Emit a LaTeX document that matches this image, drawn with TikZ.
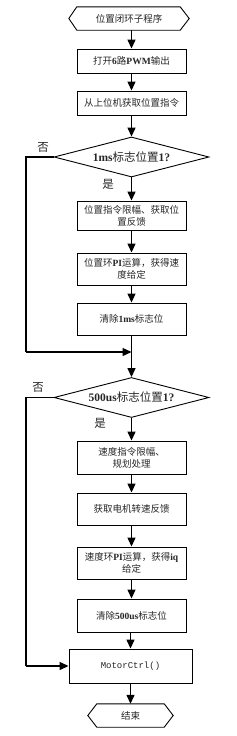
\documentclass[tikz,border=0pt]{standalone}
\usepackage{fontspec}
\setmainfont{Liberation Serif}
\setmonofont{Liberation Mono}
\newfontfamily\cjk{Noto Sans CJK SC}
\usetikzlibrary{shapes.geometric,arrows.meta,calc}
\newcommand\zh[1]{{\cjk #1}}
\begin{document}
\begin{tikzpicture}[x=1pt,y=-1pt,
  box/.style={draw,line width=0.9pt,minimum width=109pt,inner sep=1pt,align=center,
    font=\fontsize{9.5}{12}\selectfont,text=black!85},
  dec/.style={draw,diamond,line width=0.9pt,aspect=3.9,inner sep=0pt,minimum width=155pt,minimum height=40pt,
    font=\fontsize{11.5}{13}\selectfont,text=black!85},
  term/.style={inner sep=0pt,font=\fontsize{9.5}{12}\selectfont,text=black!85},
  lab/.style={font=\fontsize{11.5}{13}\selectfont,text=black!85,inner sep=0pt},
  arr/.style={line width=1.3pt,-{Triangle[length=9pt,width=8pt]}},
  ln/.style={line width=1.3pt}]
\useasboundingbox (0,0) rectangle (237,736);

% start
\node[term,minimum width=120pt,minimum height=23pt] (s) at (129,18.5) {\zh{位置闭环子程序}};
\draw[line width=0.9pt] (s.west) -- ([xshift=8pt]s.north west) -- ([xshift=-9pt]s.north east) -- (s.east)
  -- ([xshift=-9pt]s.south east) -- ([xshift=8pt]s.south west) -- cycle;

\node[box,minimum height=24pt] (b1) at (131.5,61) {\zh{打开}\textbf{6}\zh{路}\textbf{PWM}\zh{输出}};
\node[box,minimum height=24pt] (b2) at (131.5,103) {\zh{从上位机获取位置指令}};
\node[dec] (d1) at (131.5,157) {\textbf{1ms}\zh{标志位置}\textbf{1?}};
\node[box,minimum height=29pt] (b3) at (131.5,215.5) {\zh{位置指令限幅、获取位}\\\zh{置反馈}};
\node[box,minimum height=32pt] (b4) at (131.5,269) {\zh{位置环}\textbf{PI}\zh{运算，获得速}\\\zh{度给定}};
\node[box,minimum height=32pt] (b5) at (131.5,319) {\zh{清除}\textbf{1ms}\zh{标志位}};
\coordinate (j1) at (131.5,352);
\node[dec] (d2) at (131.5,397.5) {\textbf{500us}\zh{标志位置}\textbf{1?}};
\node[box,minimum height=33pt] (b6) at (131.5,457.5) {\zh{速度指令限幅、}\\\zh{规划处理}};
\node[box,minimum height=32pt] (b7) at (131.5,509) {\zh{获取电机转速反馈}};
\node[box,minimum height=32pt] (b8) at (131.5,563) {\zh{速度环}\textbf{PI}\zh{运算，获得}\textbf{iq}\\\zh{给定}};
\node[box,minimum height=33pt] (b9) at (131.5,615.5) {\zh{清除}\textbf{500us}\zh{标志位}};
\node[box,minimum width=123pt,minimum height=34pt,font=\ttfamily\fontsize{9}{11}\selectfont] (m) at (130.5,666) {MotorCtrl()};
\node[term,minimum width=85pt,minimum height=23pt] (e) at (130.5,715.5) {\zh{结束}};
\draw[line width=0.9pt] (e.west) -- ([xshift=9pt]e.north west) -- ([xshift=-9pt]e.north east) -- (e.east)
  -- ([xshift=-9pt]e.south east) -- ([xshift=9pt]e.south west) -- cycle;

% arrows
\draw[arr] (s.south -| b1.north) -- (b1.north);
\draw[arr] (b1) -- (b2);
\draw[arr] (b2) -- (d1);
\draw[arr] (d1) -- (b3);
\draw[arr] (b3) -- (b4);
\draw[arr] (b4) -- (b5);
\draw[arr] (b5) -- (d2);
\draw[arr] (d2) -- (b6);
\draw[arr] (b6) -- (b7);
\draw[arr] (b7) -- (b8);
\draw[arr] (b8) -- (b9);
\draw[arr] (b9.south -| m.north) -- (m.north);
\draw[arr] (m.south -| e.north) -- (e.north);

\coordinate (l1) at (26,157);
\coordinate (l2) at (26,397.5);
\draw[ln] (d1.west) -- (l1) -- (l1 |- j1);
\draw[arr] (l1 |- j1) -- (j1);
\draw[ln] (d2.west) -- (l2) -- (l2 |- m.west);
\draw[arr] (l2 |- m.west) -- (m.west);

\node[lab] at (43,147) {\zh{否}};
\node[lab] at (108,184) {\zh{是}};
\node[lab] at (38,387) {\zh{否}};
\node[lab] at (100,423) {\zh{是}};
\end{tikzpicture}
\end{document}
